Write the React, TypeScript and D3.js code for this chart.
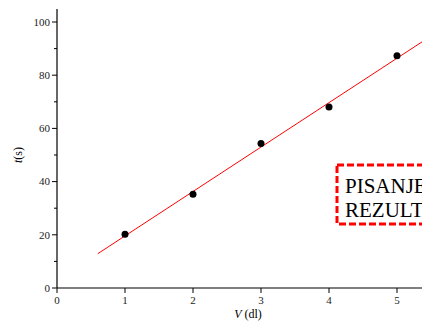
import React, { useEffect, useRef } from 'react';
import * as d3 from 'd3';

// measured points
const volumes = [1, 2, 3, 4, 5];
const times = [20.2, 35.2, 54.3, 68.0, 87.3];

// linear fit endpoints
const fitX = [0.6, 5.6];
const fitY = [12.9, 96.4];

const xTicks = [0, 1, 2, 3, 4, 5];
const yTicks = [0, 20, 40, 60, 80, 100];
const yMinorTicks = [10, 30, 50, 70, 90];

const boxLines = ['PISANJE', 'REZULTATA'];

const FONT = 'Liberation Serif, DejaVu Serif, serif';

const App: React.FC = () => {
  const svgRef = useRef<SVGSVGElement>(null);

  useEffect(() => {
    if (!svgRef.current) return;
    const svg = d3.select(svgRef.current);
    svg.selectAll('*').remove();

    const W = 422;
    const H = 322;
    const x0 = 57;
    const y0 = 288;

    const x = d3.scaleLinear().domain([0, 5]).range([x0, 397]);
    const y = d3.scaleLinear().domain([0, 100]).range([y0, 22]);

    svg.attr('width', W).attr('height', H).attr('font-family', FONT);

    // axes lines
    svg.append('line')
      .attr('x1', x0).attr('x2', x0)
      .attr('y1', 9).attr('y2', y0)
      .attr('stroke', '#000').attr('stroke-width', 1.2);
    svg.append('line')
      .attr('x1', x0).attr('x2', W)
      .attr('y1', y0).attr('y2', y0)
      .attr('stroke', '#000').attr('stroke-width', 1.2);

    // y ticks
    svg.selectAll('.ytick')
      .data(yTicks)
      .enter()
      .append('line')
      .attr('x1', x0 - 5).attr('x2', x0)
      .attr('y1', d => y(d)).attr('y2', d => y(d))
      .attr('stroke', '#000').attr('stroke-width', 1);
    svg.selectAll('.yminor')
      .data(yMinorTicks)
      .enter()
      .append('line')
      .attr('x1', x0 - 3).attr('x2', x0)
      .attr('y1', d => y(d)).attr('y2', d => y(d))
      .attr('stroke', '#000').attr('stroke-width', 1);
    svg.selectAll('.ylabel')
      .data(yTicks)
      .enter()
      .append('text')
      .attr('x', x0 - 7)
      .attr('y', d => y(d))
      .attr('dy', '0.35em')
      .attr('text-anchor', 'end')
      .attr('font-family', FONT)
      .attr('font-size', 11)
      .attr('fill', '#222')
      .text(d => d);

    // x ticks
    svg.selectAll('.xtick')
      .data(xTicks)
      .enter()
      .append('line')
      .attr('x1', d => x(d)).attr('x2', d => x(d))
      .attr('y1', y0).attr('y2', y0 + 5)
      .attr('stroke', '#000').attr('stroke-width', 1);
    svg.selectAll('.xlabel')
      .data(xTicks)
      .enter()
      .append('text')
      .attr('x', d => x(d))
      .attr('y', y0 + 16)
      .attr('text-anchor', 'middle')
      .attr('font-family', FONT)
      .attr('font-size', 11)
      .attr('fill', '#222')
      .text(d => d);

    // axis titles
    const xt = svg.append('text')
      .attr('x', 248).attr('y', 318)
      .attr('text-anchor', 'middle')
      .attr('font-family', FONT)
      .attr('font-size', 12);
    xt.append('tspan').attr('font-style', 'italic').text('V');
    xt.append('tspan').text(' (dl)');

    const yt = svg.append('text')
      .attr('transform', `translate(22,${y(50)}) rotate(-90)`)
      .attr('text-anchor', 'middle')
      .attr('font-family', FONT)
      .attr('font-size', 12);
    yt.append('tspan').attr('font-style', 'italic').text('t');
    yt.append('tspan').text('(s)');

    // fit line
    const line = d3.line<number>()
      .x((_, i) => x(fitX[i]))
      .y(d => y(d));
    svg.append('path')
      .datum(fitY)
      .attr('fill', 'none')
      .attr('stroke', '#ff0000')
      .attr('stroke-width', 1)
      .attr('d', line);

    // points
    svg.selectAll('.dot')
      .data(volumes)
      .enter()
      .append('circle')
      .attr('cx', d => x(d))
      .attr('cy', (_, i) => y(times[i]))
      .attr('r', 3.5)
      .attr('fill', '#000');

    // dashed text box
    svg.append('rect')
      .attr('x', 337).attr('y', 165)
      .attr('width', 120).attr('height', 59)
      .attr('fill', '#fff')
      .attr('stroke', '#ff0000')
      .attr('stroke-width', 3)
      .attr('stroke-dasharray', '7,3');
    svg.selectAll('.boxtext')
      .data(boxLines)
      .enter()
      .append('text')
      .attr('x', 345)
      .attr('y', (_, i) => 193 + i * 24)
      .attr('font-family', FONT)
      .attr('font-size', 21)
      .attr('fill', '#000')
      .text(d => d);
  }, []);

  return (
    <svg
      ref={svgRef}
      style={{ position: 'absolute', left: 0, top: 0, display: 'block', background: '#fff' }}
    />
  );
};

export default App;
